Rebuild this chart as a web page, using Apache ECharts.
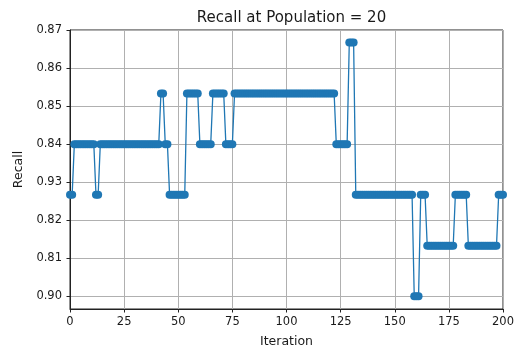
<!DOCTYPE html>
<html>
<head>
<meta charset="utf-8">
<script src="https://cdn.jsdelivr.net/npm/echarts@6/dist/echarts.min.js"></script>
<style>html,body{margin:0;padding:0;background:#fff;}#c{width:522px;height:354px;}</style>
</head>
<body>
<div id="c"></div>
<script>
const titleText = 'Recall at Population = 20';
const xName = 'Iteration';
const yName = 'Recall';
const xTicks = [0, 25, 50, 75, 100, 125, 150, 175, 200];
const yTickValues = [0.80, 0.81, 0.82, 0.83, 0.84, 0.85, 0.86, 0.87];
const yTickLabels = ['0.90', '0.81', '0.82', '0.93', '0.84', '0.85', '0.86', '0.87'];
// recall per iteration 0..200
const recall = [
  0.8267,0.8267,0.84,0.84,0.84,0.84,0.84,0.84,0.84,0.84,
  0.84,0.84,0.8267,0.8267,0.84,0.84,0.84,0.84,0.84,0.84,
  0.84,0.84,0.84,0.84,0.84,0.84,0.84,0.84,0.84,0.84,
  0.84,0.84,0.84,0.84,0.84,0.84,0.84,0.84,0.84,0.84,
  0.84,0.84,0.8533,0.8533,0.84,0.84,0.8267,0.8267,0.8267,0.8267,
  0.8267,0.8267,0.8267,0.8267,0.8533,0.8533,0.8533,0.8533,0.8533,0.8533,
  0.84,0.84,0.84,0.84,0.84,0.84,0.8533,0.8533,0.8533,0.8533,
  0.8533,0.8533,0.84,0.84,0.84,0.84,0.8533,0.8533,0.8533,0.8533,
  0.8533,0.8533,0.8533,0.8533,0.8533,0.8533,0.8533,0.8533,0.8533,0.8533,
  0.8533,0.8533,0.8533,0.8533,0.8533,0.8533,0.8533,0.8533,0.8533,0.8533,
  0.8533,0.8533,0.8533,0.8533,0.8533,0.8533,0.8533,0.8533,0.8533,0.8533,
  0.8533,0.8533,0.8533,0.8533,0.8533,0.8533,0.8533,0.8533,0.8533,0.8533,
  0.8533,0.8533,0.8533,0.84,0.84,0.84,0.84,0.84,0.84,0.8667,
  0.8667,0.8667,0.8267,0.8267,0.8267,0.8267,0.8267,0.8267,0.8267,0.8267,
  0.8267,0.8267,0.8267,0.8267,0.8267,0.8267,0.8267,0.8267,0.8267,0.8267,
  0.8267,0.8267,0.8267,0.8267,0.8267,0.8267,0.8267,0.8267,0.8267,0.80,
  0.80,0.80,0.8267,0.8267,0.8267,0.8133,0.8133,0.8133,0.8133,0.8133,
  0.8133,0.8133,0.8133,0.8133,0.8133,0.8133,0.8133,0.8133,0.8267,0.8267,
  0.8267,0.8267,0.8267,0.8267,0.8133,0.8133,0.8133,0.8133,0.8133,0.8133,
  0.8133,0.8133,0.8133,0.8133,0.8133,0.8133,0.8133,0.8133,0.8267,0.8267,
  0.8267
];

const font = 'DejaVu Sans';
const txt = '#1a1a1a';
const chart = echarts.init(document.getElementById('c'), null, {renderer: 'canvas'});
const labelFor = v => {
  for (let k = 0; k < yTickValues.length; k++) {
    if (Math.abs(v - yTickValues[k]) < 1e-6) return yTickLabels[k];
  }
  return '';
};
chart.setOption({
  animation: false,
  backgroundColor: '#fff',
  title: {
    text: titleText, left: 286.5, top: 6, textAlign: 'center',
    textStyle: {fontFamily: font, fontSize: 15, fontWeight: 'normal', color: txt}
  },
  grid: {
    left: 70, right: 19, top: 30, bottom: 45,
    show: true, borderColor: '#222', borderWidth: 1, backgroundColor: 'transparent'
  },
  xAxis: {
    type: 'value', min: 0, max: 200, interval: 25,
    name: xName, nameLocation: 'middle', nameGap: 26,
    nameTextStyle: {fontFamily: font, fontSize: 12.5, color: txt},
    axisLine: {show: true, lineStyle: {color: '#222', width: 1}},
    axisTick: {show: true, length: 3.5, inside: false, lineStyle: {color: '#222', width: 1}},
    axisLabel: {
      fontFamily: font, fontSize: 11.5, color: txt, margin: 7,
      formatter: v => (xTicks.indexOf(v) >= 0 ? String(v) : '')
    },
    splitLine: {show: true, lineStyle: {color: '#b0b0b0', width: 1}}
  },
  yAxis: {
    type: 'value', min: 0.796667, max: 0.87,
    interval: 0.01,
    name: yName, nameLocation: 'middle', nameGap: 43,
    nameTextStyle: {fontFamily: font, fontSize: 12.5, color: txt},
    axisLine: {show: true, lineStyle: {color: '#222', width: 1}},
    axisTick: {show: true, length: 3.5, inside: false, customValues: yTickValues, lineStyle: {color: '#222', width: 1}},
    axisLabel: {
      fontFamily: font, fontSize: 11.5, color: txt, margin: 8,
      customValues: yTickValues,
      formatter: v => labelFor(v)
    },
    splitLine: {show: true, lineStyle: {color: '#b0b0b0', width: 1}}
  },
  series: [{
    type: 'line',
    data: recall.map((v, i) => [i, v]),
    showAllSymbol: true,
    symbol: 'circle',
    symbolSize: 8,
    itemStyle: {color: '#1f77b4'},
    lineStyle: {color: '#1f77b4', width: 1.3},
    clip: true,
    z: 3
  }]
});
</script>
</body>
</html>
